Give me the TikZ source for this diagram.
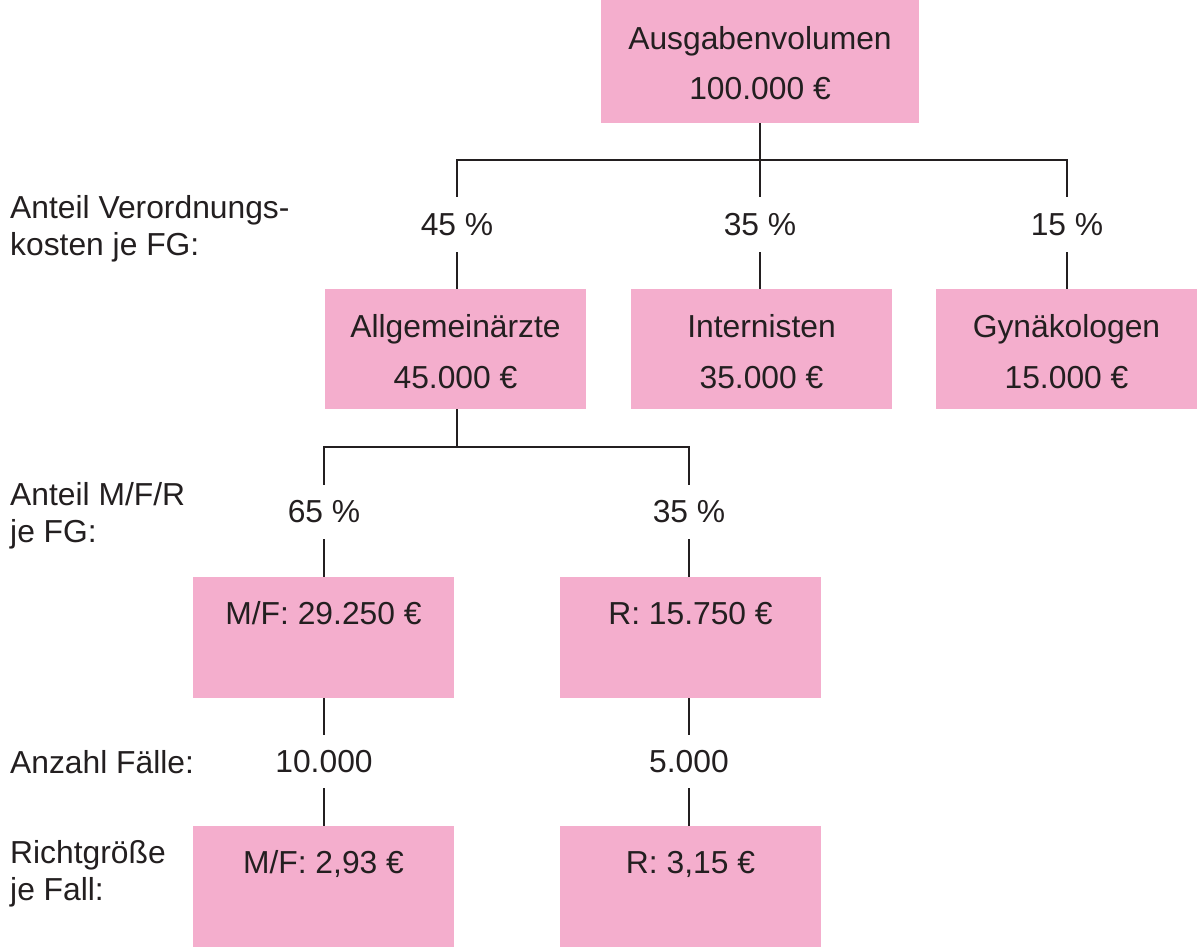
\documentclass[tikz,border=0pt]{standalone}
\usepackage{fontspec}
\setmainfont{Liberation Sans}
\definecolor{pinkc}{RGB}{244,174,205}
\definecolor{inkc}{RGB}{35,31,32}
\begin{document}
\begin{tikzpicture}[x=1pt,y=-1pt,
  boxst/.style={fill=pinkc, draw=none, inner sep=0pt, minimum width=261pt, minimum height=120pt},
  txt/.style={text=inkc, inner sep=0pt, anchor=base, font=\fontsize{31.8}{38}\selectfont},
  lbl/.style={txt, anchor=base west},
  pct/.style={text=inkc, inner sep=0pt, minimum height=55pt, font=\fontsize{31.8}{38}\selectfont},
  conn/.style={draw=inkc, line width=2pt}]
\useasboundingbox (0,0) rectangle (1197,947);
\fill[white] (0,0) rectangle (1197,947);

% boxes
\node[boxst, minimum width=318pt, minimum height=123pt] (top) at (760,61.5) {};
\node[boxst] (allg) at (455.5,349) {};
\node[boxst] (int) at (761.5,349) {};
\node[boxst] (gyn) at (1066.5,349) {};
\node[boxst, minimum height=121pt] (mf) at (323.5,637.5) {};
\node[boxst, minimum height=121pt] (r) at (690.5,637.5) {};
\node[boxst, minimum height=121pt] (mfc) at (323.5,886.5) {};
\node[boxst, minimum height=121pt] (rc) at (690.5,886.5) {};

% box texts
\node[txt] (topA) at (760,50) {Ausgabenvolumen};
\node[txt] (topB) at (760,100) {100.000 €};
\node[txt] (allgA) at (455.5,337) {Allgemeinärzte};
\node[txt] (allgB) at (455.5,388) {45.000 €};
\node[txt] (intA) at (761.5,337) {Internisten};
\node[txt] (intB) at (761.5,388) {35.000 €};
\node[txt] (gynA) at (1066.5,337) {Gynäkologen};
\node[txt] (gynB) at (1066.5,388) {15.000 €};
\node[txt] (mfA) at (323.5,624) {M/F: 29.250 €};
\node[txt] (rA) at (690.5,624) {R: 15.750 €};
\node[txt] (mfcA) at (323.5,873) {M/F: 2,93 €};
\node[txt] (rcA) at (690.5,873) {R: 3,15 €};

% left labels
\node[lbl] (l1a) at (10,218) {Anteil Verordnungs-};
\node[lbl] (l1b) at (10,255) {kosten je FG:};
\node[lbl] (l2a) at (10,505) {Anteil M/F/R};
\node[lbl] (l2b) at (10,542) {je FG:};
\node[lbl] (l3a) at (10,773) {Anzahl Fälle:};
\node[lbl] (l4a) at (10,863) {Richtgröße};
\node[lbl] (l4b) at (10,900) {je Fall:};

% percentage / count labels
\node[pct] (p45) at (457,224.5) {45 \%};
\node[pct] (p35) at (760,224.5) {35 \%};
\node[pct] (p15) at (1067,224.5) {15 \%};
\node[pct, minimum height=54pt] (p65) at (324,512) {65 \%};
\node[pct, minimum height=54pt] (pr35) at (689,512) {35 \%};
\node[pct, minimum height=53pt] (n10) at (324,761.5) {10.000};
\node[pct, minimum height=53pt] (n5) at (689,761.5) {5.000};

% connectors level 1
\coordinate (bar1) at (760,160);
\draw[conn] (top.south) -- (bar1);
\draw[conn] (p45.north) |- (bar1) -| (p15.north);
\draw[conn] (bar1) -- (p35.north);
\draw[conn] (p45.south) -- (p45.south |- allg.north);
\draw[conn] (p35.south) -- (p35.south |- int.north);
\draw[conn] (p15.south) -- (p15.south |- gyn.north);

% connectors level 2
\coordinate (bar2) at (457,447);
\draw[conn] (bar2 |- allg.south) -- (bar2);
\draw[conn] (p65.north) |- (bar2) -| (pr35.north);
\draw[conn] (p65.south) -- (p65.south |- mf.north);
\draw[conn] (pr35.south) -- (pr35.south |- r.north);

% connectors level 3
\draw[conn] (n10.north |- mf.south) -- (n10.north);
\draw[conn] (n10.south) -- (n10.south |- mfc.north);
\draw[conn] (n5.north |- r.south) -- (n5.north);
\draw[conn] (n5.south) -- (n5.south |- rc.north);
\end{tikzpicture}
\end{document}
